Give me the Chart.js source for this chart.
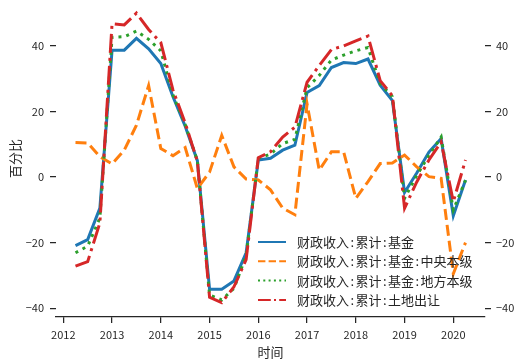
<!DOCTYPE html>
<html lang="zh">
<head>
  <meta charset="UTF-8">
  <title>财政收入:累计</title>
  <script src="https://cdn.jsdelivr.net/npm/chart.js"></script>
  <style>
    body { margin: 0; background: #fff; }
    canvas { display: block; }
  </style>
</head>
<body>
  <canvas id="myChart" width="526" height="364"></canvas>
  <script>
    // quarter-end dates (year-month)
    const quarters = [
      '2012-03', '2012-06', '2012-09', '2012-12',
      '2013-03', '2013-06', '2013-09', '2013-12',
      '2014-03', '2014-06', '2014-09', '2014-12',
      '2015-03', '2015-06', '2015-09', '2015-12',
      '2016-03', '2016-06', '2016-09', '2016-12',
      '2017-03', '2017-06', '2017-09', '2017-12',
      '2018-03', '2018-06', '2018-09', '2018-12',
      '2019-03', '2019-06', '2019-09', '2019-12',
      '2020-03'
    ];

    const fundTotal = [-20.9, -19.1, -9.5, 38.7, 38.7, 42.3, 39.1, 34.6, 24.5, 15.5, 5, -34.2,
      -34.2, -31.7, -23.1, 5.2, 5.7, 8.2, 9.7, 25.8, 27.9, 33.4, 34.9, 34.6,
      36, 28, 23.3, -4.7, 1.2, 7.6, 11.7, -11.8, -0.9];
    const fundCentral = [10.5, 10.4, 6.2, 4, 8.2, 15.8, 27.9, 8.7, 6.5, 9, -3.5, 1.5,
      12.7, 3.1, -0.6, -0.9, -3.9, -9.5, -11.5, 22.3, 2.1, 7.7, 7.7, -6.5,
      -1.4, 4.1, 4.3, 6.7, 3.1, 0.1, -0.4, -29.5, -20];
    const fundLocal = [-23.1, -21.1, -12.5, 42.6, 42.8, 44.5, 42, 38.5, 25, 16, 5, -36,
      -37.5, -34, -24, 5.7, 7, 10.2, 11.5, 27.2, 31, 35.7, 37.2, 38.5,
      39.5, 28.5, 24.5, -6.5, 0.5, 6.6, 12.2, -10, -1];
    const landSale = [-27.2, -25.8, -14, 46.8, 46.4, 50, 45, 41, 26.5, 16.5, 4.8, -36.7,
      -38.3, -33.5, -25.2, 5.9, 7.7, 12.2, 15.2, 28.9, 34, 38.9, 40, 41.5,
      43, 29.4, 24.8, -9.5, -1.5, 5.2, 10.7, -7.5, 5.2];

    const seriesNames = [
      '财政收入:累计:基金',
      '财政收入:累计:基金:中央本级',
      '财政收入:累计:基金:地方本级',
      '财政收入:累计:土地出让'
    ];
    const xTicks = [2012, 2013, 2014, 2015, 2016, 2017, 2018, 2019, 2020];
    const yTicks = [-40, -20, 0, 20, 40];

    // date string -> decimal year position on the x axis
    const xPos = quarters.map(q => {
      const [y, m] = q.split('-').map(Number);
      return y + m / 12;
    });
    const toPoints = vals => vals.map((v, i) => ({ x: xPos[i], y: v }));

    const ink = '#262626';
    const cjk = '"Noto Sans CJK SC", "Noto Sans", sans-serif';

    // hand-placed legend, lower right inside the plot
    // colons get a half-width cell like the original font
    const legendBox = {
      id: 'legendBox',
      afterDraw(chart) {
        const ctx = chart.ctx;
        chart.data.datasets.forEach((ds, i) => {
          const y = 242 + i * 19.3;
          ctx.save();
          ctx.strokeStyle = ds.borderColor;
          ctx.lineWidth = 2;
          ctx.setLineDash(ds.legendDash);
          ctx.beginPath();
          ctx.moveTo(258, y);
          ctx.lineTo(286, y);
          ctx.stroke();
          ctx.setLineDash([]);
          ctx.fillStyle = ink;
          ctx.font = '13px ' + cjk;
          ctx.textBaseline = 'middle';
          let x = 297;
          ds.label.split(':').forEach((part, k) => {
            if (k > 0) {
              ctx.textAlign = 'center';
              ctx.fillText(':', x + 3.2, y);
              ctx.textAlign = 'left';
              x += 6.5;
            }
            ctx.fillText(part, x, y);
            x += ctx.measureText(part).width;
          });
          ctx.restore();
        });
      }
    };

    const fmt = v => String(v).replace('-', '\u2212');

    const yAxis = (pos, w) => ({
      type: 'linear',
      position: pos,
      min: -42.7,
      max: 54,
      afterBuildTicks: s => { s.ticks = yTicks.map(v => ({ value: v })); },
      afterFit: s => { s.width = w; s.paddingTop = 0; s.paddingBottom = 0; },
      grid: { display: true, drawOnChartArea: false, drawTicks: true, tickLength: 6, color: ink, lineWidth: 1.25 },
      border: { display: false },
      ticks: { color: ink, padding: 5, font: { family: cjk, size: 11 }, callback: fmt }
    });

    const left = yAxis('left', 56);
    left.title = { display: true, text: '百分比', color: ink, font: { family: cjk, size: 13 }, padding: { top: 7, bottom: 0 } };
    left.ticks.padding = 6;

    new Chart(document.getElementById('myChart'), {
      type: 'line',
      data: {
        datasets: [
          { label: seriesNames[0], data: toPoints(fundTotal), borderColor: '#1f77b4', borderWidth: 3, borderDash: [], legendDash: [], order: 4 },
          { label: seriesNames[1], data: toPoints(fundCentral), borderColor: '#ff7f0e', borderWidth: 3, borderDash: [11, 5], legendDash: [7.4, 3.2], order: 3 },
          { label: seriesNames[2], data: toPoints(fundLocal), borderColor: '#2ca02c', borderWidth: 3, borderDash: [3, 5], legendDash: [2, 3.3], order: 2 },
          { label: seriesNames[3], data: toPoints(landSale), borderColor: '#d62728', borderWidth: 3, borderDash: [19, 5, 3, 5], legendDash: [12.8, 3.2, 2, 3.2], order: 1 }
        ]
      },
      options: {
        responsive: false,
        animation: false,
        layout: { padding: 0 },
        elements: { point: { radius: 0 }, line: { tension: 0, fill: false } },
        plugins: { legend: { display: false }, tooltip: { enabled: false } },
        scales: {
          x: {
            type: 'linear',
            min: 2011.85,
            max: 2020.65,
            afterBuildTicks: s => { s.ticks = xTicks.map(v => ({ value: v })); },
            afterFit: s => { s.height = 47; },
            grid: { display: true, drawOnChartArea: false, drawTicks: true, tickLength: 6, color: ink, lineWidth: 1.25 },
            border: { display: true, color: ink, width: 1.25 },
            ticks: { color: ink, padding: 5, maxRotation: 0, font: { family: cjk, size: 11 }, callback: v => String(v) },
            title: { display: true, text: '时间', color: ink, font: { family: cjk, size: 13 }, padding: { top: 0, bottom: 4 } }
          },
          y: left,
          y2: yAxis('right', 41)
        }
      },
      plugins: [legendBox]
    });
  </script>
</body>
</html>
